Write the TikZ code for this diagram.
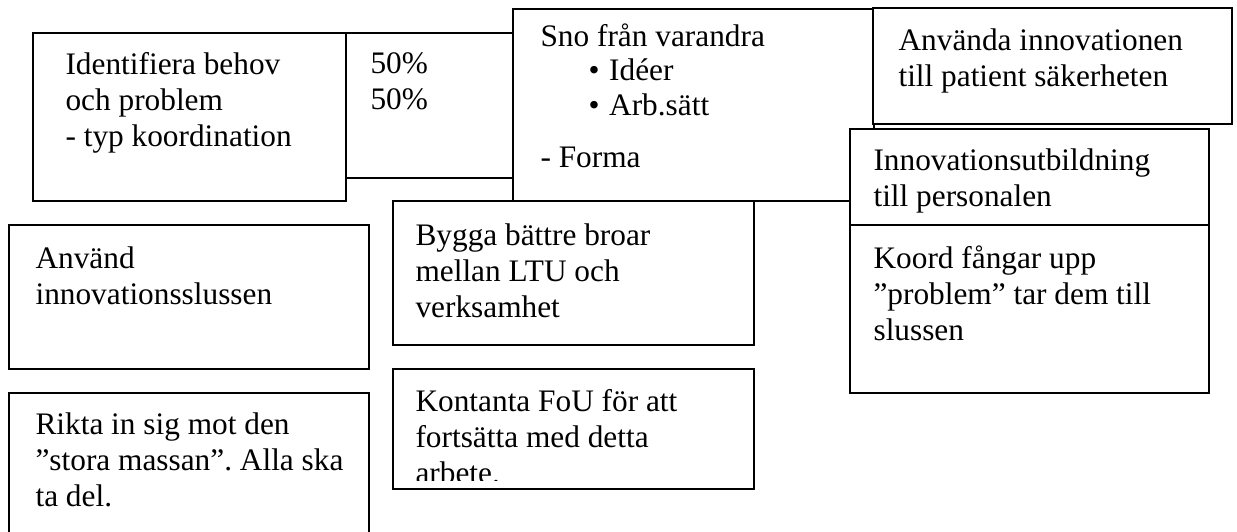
\documentclass[tikz,border=0pt]{standalone}
\usepackage{fontspec}
\setmainfont{Liberation Serif}
\usetikzlibrary{positioning}
\frenchspacing

\tikzset{
  ruta/.style={draw, line width=0.65pt, fill=white},
  txt/.style={anchor=north west, inner sep=0pt, align=left,
    font=\fontsize{11.4}{13.1}\selectfont}
}

\begin{document}
\begin{tikzpicture}[x=0.364pt, y=-0.364pt]
\useasboundingbox (0,0) rectangle (1237,532);
\clip (0,0) rectangle (1237,532);

% top row
\draw[ruta] (33,33) rectangle (346,201);
\draw[ruta] (346,33) rectangle (513,178);
\draw[ruta] (513,9) rectangle (874,201);
\draw[ruta] (873,8) rectangle (1232,124);
\draw[ruta] (850,129) rectangle (1209,225);
\draw[ruta] (850,225) rectangle (1209,393);

\node[txt] (behov) at (65,52) {Identifiera behov\\och problem\\- typ koordination};
\node[txt] (andel) at (370,52) {50\%\\50\%};
\node[txt] (sno) at (540,23) {Sno från varandra\\[-0.5pt]
  \hspace*{17.5pt}\textbullet\hspace{3.5pt}Idéer\\[-0.5pt]
  \hspace*{17.5pt}\textbullet\hspace{3.5pt}Arb.sätt\\[6pt]
  - Forma};
\node[txt] (patient) at (898,28) {Använda innovationen\\till patient säkerheten};
\node[txt] (utbildning) at (873,148) {Innovationsutbildning\\till personalen};
\node[txt] (koord) at (873,245) {Koord fångar upp\\”problem” tar dem till\\slussen};

% left and middle
\draw[ruta] (9,225) rectangle (369,369);
\draw[ruta] (9,393) rectangle (369,545);
\draw[ruta] (393,201) rectangle (754,345);
\draw[ruta] (393,369) rectangle (754,489);

\node[txt] (sluss) at (35,246) {Använd\\innovationsslussen};
\node[txt] (massan) at (35,412) {Rikta in sig mot den\\”stora massan”. Alla ska\\ta del.};
\node[txt] (broar) at (415,223) {Bygga bättre broar\\mellan LTU och\\verksamhet};
\begin{scope}
\clip (393,369) rectangle (754,481);
\node[txt] (fou) at (415,389) {Kontanta FoU för att\\fortsätta med detta\\arbete.};
\end{scope}
\end{tikzpicture}
\end{document}
